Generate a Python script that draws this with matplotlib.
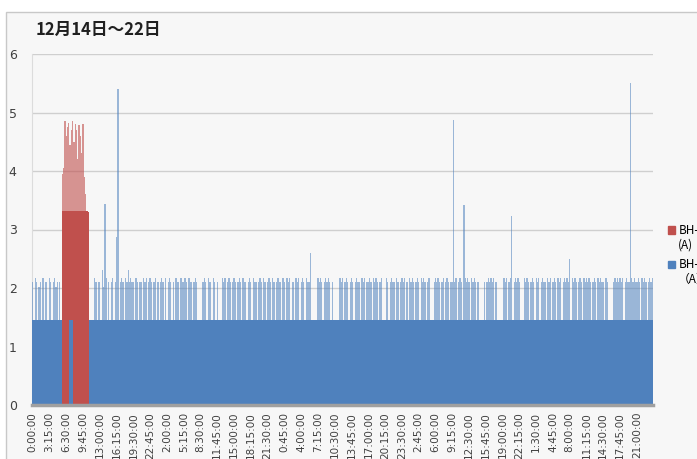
import numpy as np
import matplotlib
matplotlib.use("Agg")
import matplotlib.pyplot as plt
from matplotlib.patches import Rectangle, Patch
from matplotlib.legend_handler import HandlerPatch

# 15-minute samples, 13 samples between labelled ticks
tick_labels = [
    "0:00:00", "3:15:00", "6:30:00", "9:45:00", "13:00:00", "16:15:00",
    "19:30:00", "22:45:00", "2:00:00", "5:15:00", "8:30:00", "11:45:00",
    "15:00:00", "18:15:00", "21:30:00", "0:45:00", "4:00:00", "7:15:00",
    "10:30:00", "13:45:00", "17:00:00", "20:15:00", "23:30:00", "2:45:00",
    "6:00:00", "9:15:00", "12:30:00", "15:45:00", "19:00:00", "22:15:00",
    "1:30:00", "4:45:00", "8:00:00", "11:15:00", "14:30:00", "17:45:00",
    "21:00:00",
]

# BH-1 read per sample: '0' = 0, '.' = 1.45, 'a'..'d' = short spikes
bh1_pattern = [
    "b.cb.ab.c.bb.", "cb.bcab.b.000", "000...0000000", "00000....cb.b",
    "b.cabc.b.bc.b", "cb.bcb.cb.bcb", "b.cb.bb.cbc.b", "cb.bc.b.bcb.c",
    ".bcb.b.cbb.cb", "bcb.cbb.bcb..", "..bcb.cbb.cb.", "b...cbc.bcb.b",
    "cb.bcb.cbb.bc", "b.cbb.bcb.cb.", "bcb.cb.bcbb.c", "b.cbc.bb.cbc.",
    "bcb.cbbc.....", "cbcb.bcbcb.b.", "....cbc.bcb.b", "cb.bcbb.cbc.b",
    "bcb.cbcb.bc..", ".cb.bcbb.cb.b", "cbc.b.cbcb.bc", "b.cbcb.bc...b",
    "cbcb.bc.bcb.b", "bcbc.bcb.bcbc", "b.cbcb.b....b", ".bcbcbc.b....",
    ".cbc.bcb.bcbc", "b...cbcb.bcb.", "cbc.bcbb.cbc.", "bcb.cbc.bcbcb",
    "b.cbcb.bcb.cb", "cbcb.bcb.cbcb", "b.cb....bcbcb", "cbc.bcbb.cbcb",
    "bcb.cbcb.bcbc",
]
bh1_levels = {"0": 0.0, ".": 1.45, "a": 2.02, "b": 2.10, "c": 2.17, "d": 2.22}

# taller single BH-1 peaks (sample index, value)
bh1_peak_idx = [54, 56, 65, 66, 74, 215, 326, 334, 371, 416, 463]
bh1_peak_val = [2.30, 3.44, 2.88, 5.40, 2.30, 2.60, 4.87, 3.42, 3.23, 2.49, 5.50]

# BH-2 only runs for samples 23..43
bh2_start = 23
bh2_vals = [3.95, 4.05, 4.85, 4.60, 4.75, 4.82, 4.45, 4.70, 4.86, 4.50, 4.80,
            4.70, 4.20, 4.78, 4.60, 4.30, 4.80, 3.90, 3.60, 3.32, 3.30]

blue = "#4f81bd"
red = "#c0504d"

bh1 = np.array([bh1_levels[ch] for ch in "".join(bh1_pattern)])
bh1[bh1_peak_idx] = bh1_peak_val
n = len(bh1)
x = np.arange(n)
bh2 = np.zeros(n)
bh2[bh2_start:bh2_start + len(bh2_vals)] = bh2_vals

fig = plt.figure(figsize=(6.97, 4.59), dpi=100, facecolor="white")
# chart area box
fig.patches.append(Rectangle((6 / 697, -0.1), 1.2, 1 - 12 / 459 + 0.1,
                             transform=fig.transFigure, facecolor="#f7f7f7",
                             edgecolor="#c8c8c8", lw=1, zorder=-5))

ax = fig.add_axes([32 / 697, 1 - 405 / 459, 621 / 697, 351 / 459])
ax.set_facecolor("#f7f7f7")

# BH-2 (drawn first, BH-1 lies on top)
red_base = np.minimum(bh2, 3.32)
ax.bar(x, red_base, width=1.0, color=red, linewidth=0, antialiased=False, zorder=2)
ax.bar(x, bh2 - red_base, bottom=red_base, width=1.0, color=red,
       alpha=0.6, linewidth=0, zorder=2)

# BH-1
blue_base = np.minimum(bh1, 1.45)
ax.bar(x, blue_base, width=1.0, color=blue, linewidth=0, antialiased=False, zorder=3)
ax.bar(x, bh1 - blue_base, bottom=blue_base, width=1.0, color=blue,
       alpha=0.55, linewidth=0, zorder=3)

ax.set_xlim(-0.5, n - 0.5)
ax.set_ylim(0, 6)
ax.set_yticks(range(7))
ax.yaxis.grid(True, color="#cfcfcf", lw=1)
ax.set_axisbelow(True)
ax.set_xticks(np.arange(0, n, 13))
ax.set_xticklabels(tick_labels, rotation=90, fontsize=7.5, color="#404040")
ax.tick_params(axis="x", length=0, pad=5)
ax.tick_params(axis="y", length=0, pad=11, labelsize=9, labelcolor="#404040")
for s in ["top", "right"]:
    ax.spines[s].set_visible(False)
ax.spines["left"].set_color("#dcdcdc")
ax.spines["bottom"].set_color("#a0a0a0")
ax.spines["bottom"].set_linewidth(2.5)
ax.spines["bottom"].set_zorder(5)

fig.text(36 / 697, 1 - 30 / 459, "12月14日～22日", fontsize=12, fontweight="bold",
         family=["Noto Sans CJK JP", "DejaVu Sans"], va="center", ha="left",
         color="#202020")


# legend square sits beside the first text line
def top_square(legend, orig_handle, xdescent, ydescent, width, height, fontsize):
    return Rectangle((-xdescent, -ydescent + 0.7 * fontsize), width, height)


handles = [Patch(color=red), Patch(color=blue)]
fig.legend(handles, ["BH-2\n(A)", "BH-1\n（A）"], loc="upper left",
           bbox_to_anchor=(657 / 697, 1 - 213 / 459), frameon=False,
           handlelength=0.6, handleheight=0.6, handletextpad=0.3,
           labelspacing=0.55,
           handler_map={Patch: HandlerPatch(patch_func=top_square)},
           prop={"family": ["Noto Sans CJK JP", "DejaVu Sans"], "size": 8.5})

fig.savefig("out.png", dpi=100, facecolor="white")
